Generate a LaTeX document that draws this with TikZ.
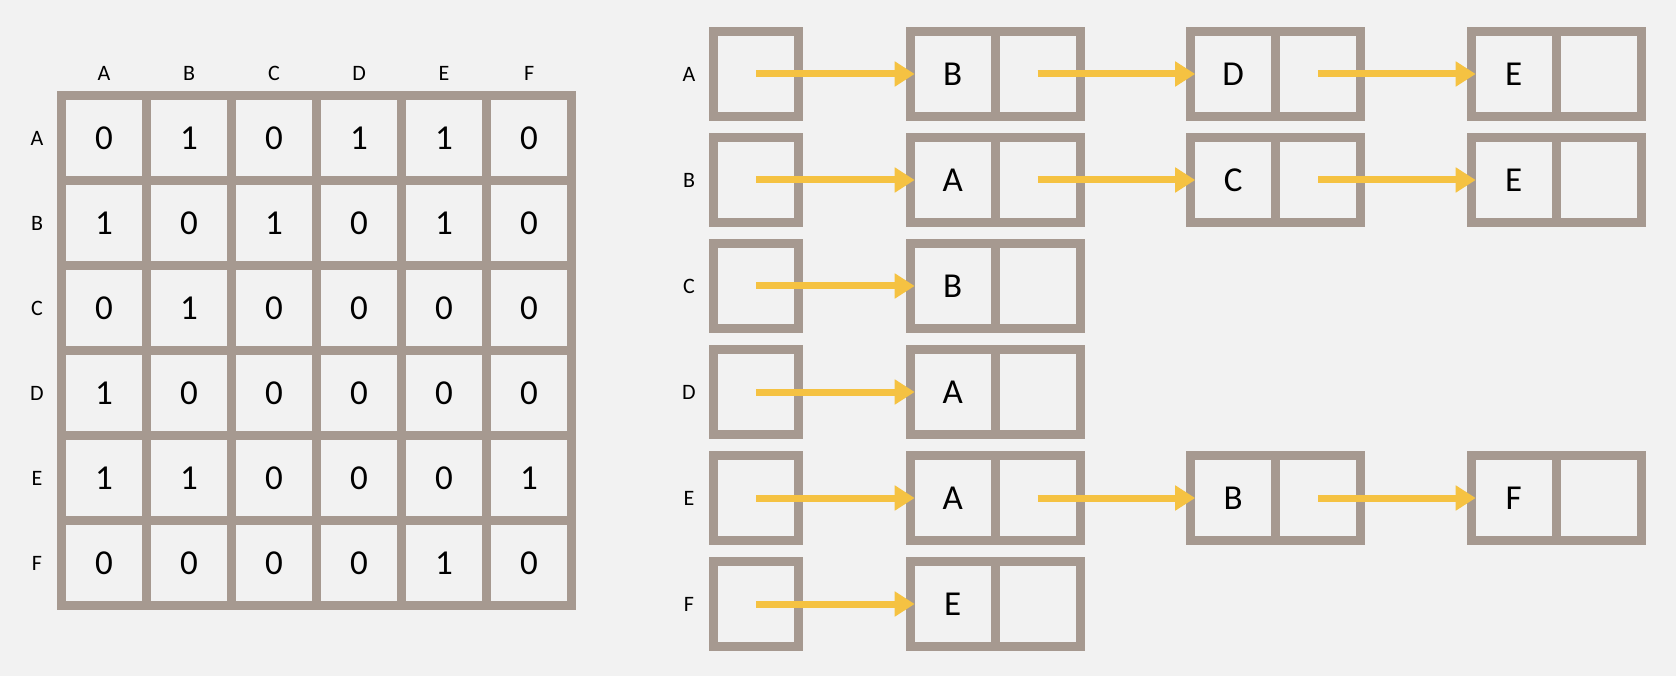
\documentclass[tikz,border=0pt]{standalone}
\usepackage{fontspec}
\setmainfont{Carlito}
\usetikzlibrary{arrows.meta}
\definecolor{bgcol}{HTML}{F2F2F2}
\definecolor{gridgrey}{HTML}{A69990}
\definecolor{arrowyellow}{HTML}{F5C242}
\begin{document}
\begin{tikzpicture}[x=1pt,y=-1pt,
  cell/.style={draw=gridgrey, line width=9pt, minimum width=85pt, minimum height=85pt,
    inner sep=0pt, outer sep=0pt, font=\fontsize{35}{35}\selectfont},
  lbl/.style={font=\fontsize{22}{22}\selectfont, inner sep=0pt},
  link/.style={draw=arrowyellow, line width=7pt, -{Triangle[length=20pt,width=24pt]}, shorten >=-4.5pt}]
\useasboundingbox (0,0) rectangle (1676,676);
\fill[bgcol] (0,0) rectangle (1676,676);

% ---- adjacency matrix ----
\foreach \c [count=\j from 0] in {A,B,C,D,E,F} {
  \node[lbl] (col\c) at (104.1+85*\j,73) {\c};
  \node[lbl] (row\c) at (37,138+85*\j) {\c};
}
\foreach \vals [count=\i from 0] in {{0,1,0,1,1,0},{1,0,1,0,1,0},{0,1,0,0,0,0},{1,0,0,0,0,0},{1,1,0,0,0,1},{0,0,0,0,1,0}} {
  \foreach \v [count=\j from 0] in \vals {
    \node[cell] (m-\i-\j) at (104.1+85*\j,138+85*\i) {\v};
  }
}

% ---- adjacency lists ----
\foreach \name/\list [count=\i from 0] in {A/{B,D,E},B/{A,C,E},C/{B},D/{A},E/{A,B,F},F/{E}} {
  \pgfmathsetmacro\yy{74+106*\i}
  \node[lbl] (lab\name) at (689,\yy) {\name};
  \node[cell] (h\name) at (756,\yy) {};
  \foreach \v [count=\k from 0] in \list {
    \pgfmathsetmacro\xl{952.7+280.5*\k}
    \node[cell] (l\name\k) at (\xl,\yy) {\v};
    \node[cell] (r\name\k) at (\xl+85,\yy) {};
    \ifnum\k=0 \edef\src{h\name}\else\pgfmathtruncatemacro\pk{\k-1}\edef\src{r\name\pk}\fi
    \draw[link] (\src.center) -- (l\name\k.west);
  }
}
\end{tikzpicture}
\end{document}
